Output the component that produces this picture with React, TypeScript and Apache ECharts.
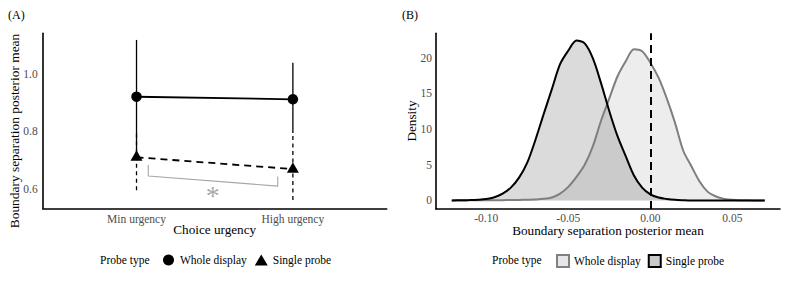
import React, { useEffect, useRef } from "react";
import * as echarts from "echarts";

// Panel A: boundary separation by choice urgency and probe type
const categories = ["Min urgency", "High urgency"];
const categoryPos = [1, 2];
const wholeDisplayMean = [0.92, 0.911];
const wholeDisplayLow = [0.716, 0.794];
const wholeDisplayHigh = [1.117, 1.038];
const singleProbeMean = [0.71, 0.669];
const singleProbeLow = [0.596, 0.562];
const singleProbeHigh = [0.8, 0.794];
const aTicks = [0.6, 0.8, 1.0];

// significance bracket between the single-probe means
const bracketX = [1.075, 1.075, 1.903, 1.903];
const bracketY = [0.683, 0.645, 0.61, 0.643];
const starPoint = [1.488, 0.577];

// Panel B: posterior density of the boundary separation difference
const densityX = [
  -0.121, -0.115, -0.11, -0.105, -0.1, -0.095, -0.09, -0.085, -0.08, -0.075,
  -0.07, -0.065, -0.06, -0.055, -0.05, -0.045, -0.04, -0.035, -0.03, -0.025,
  -0.02, -0.015, -0.01, -0.005, 0.0, 0.005, 0.01, 0.015, 0.02, 0.025,
  0.03, 0.035, 0.04, 0.045, 0.05, 0.055, 0.06, 0.065, 0.0697,
];
const densityWhole = [
  0, 0, 0.01, 0.01, 0.02, 0.03, 0.04, 0.05, 0.07, 0.1,
  0.14, 0.22, 0.42, 0.95, 1.9, 3.3, 5.0, 7.6, 11.2, 14.3,
  17.4, 19.5, 21.2, 20.9, 19.3, 17.2, 14.3, 10.9, 7.0, 4.8,
  2.65, 1.2, 0.55, 0.22, 0.08, 0.03, 0.01, 0, 0,
];
const densitySingle = [
  0, 0.02, 0.05, 0.1, 0.2, 0.45, 0.95, 1.8, 3.2, 5.3,
  8.5, 12.1, 15.6, 19.1, 21.0, 22.4, 22.0, 19.9, 16.4, 12.5,
  9.0, 6.2, 3.5, 1.8, 0.85, 0.4, 0.2, 0.08, 0.03, 0,
  0, 0, 0, 0, 0, 0, 0, 0, 0,
];
const bTicksX = [-0.1, -0.05, 0, 0.05];
const bTicksY = [0, 5, 10, 15, 20];

const FONT = "Liberation Serif";
const TICK_COLOR = "#4d4d4d";

function errorBarSeries(name: string, low: number[], high: number[], dash: number[] | null) {
  return {
    type: "custom",
    name,
    xAxisIndex: 0,
    yAxisIndex: 0,
    data: categoryPos.map((x, i) => [x, low[i], high[i]]),
    renderItem: (_params: any, api: any) => {
      const p1 = api.coord([api.value(0), api.value(1)]);
      const p2 = api.coord([api.value(0), api.value(2)]);
      return {
        type: "line",
        shape: { x1: p1[0], y1: p1[1], x2: p2[0], y2: p2[1] },
        style: { stroke: "#000", lineWidth: 1.3, lineDash: dash || undefined, fill: null },
      };
    },
    silent: true,
  };
}

function label(text: string, x: number, y: number, size: number, extra: any = {}) {
  return {
    type: "text",
    x,
    y,
    ...extra,
    style: {
      text,
      fontFamily: FONT,
      fontSize: size,
      fontWeight: "normal",
      fill: "#000",
      verticalAlign: "middle",
      ...(extra.style || {}),
    },
  };
}

export default function App() {
  const ref = useRef<HTMLDivElement | null>(null);

  useEffect(() => {
    if (!ref.current) return;
    const chart = echarts.init(ref.current, null, { renderer: "svg" });

    const axisLine = { onZero: false, lineStyle: { color: "#000", width: 1.6 } };
    const tickText = { color: TICK_COLOR, fontSize: 11.5, fontFamily: FONT };

    const option: any = {
      animation: false,
      textStyle: { fontFamily: FONT },
      grid: [
        { left: 42.7, top: 33.3, width: 344, height: 175 },
        { left: 436, top: 33.3, width: 344, height: 175.7 },
      ],
      xAxis: [
        {
          gridIndex: 0,
          type: "value",
          min: 0.4,
          max: 2.6,
          axisLine,
          axisTick: { show: false },
          splitLine: { show: false },
          axisLabel: {
            customValues: categoryPos,
            formatter: (v: number) => categories[Math.round(v) - 1] ?? "",
            ...tickText,
            margin: 5,
          },
        },
        {
          gridIndex: 1,
          type: "value",
          min: -0.1306,
          max: 0.079,
          axisLine,
          axisTick: { show: false },
          splitLine: { show: false },
          axisLabel: {
            customValues: bTicksX,
            formatter: (v: number) => v.toFixed(2),
            ...tickText,
            margin: 3,
          },
        },
      ],
      yAxis: [
        {
          gridIndex: 0,
          type: "value",
          min: 0.533,
          max: 1.14,
          axisLine,
          axisTick: { show: false },
          splitLine: { show: false },
          axisLabel: {
            customValues: aTicks,
            formatter: (v: number) => v.toFixed(1),
            ...tickText,
            margin: 5,
          },
        },
        {
          gridIndex: 1,
          type: "value",
          min: -1.2,
          max: 23.42,
          axisLine,
          axisTick: { show: false },
          splitLine: { show: false },
          axisLabel: {
            customValues: bTicksY,
            formatter: (v: number) => String(v),
            ...tickText,
            margin: 4,
          },
        },
      ],
      legend: [
        {
          left: 163,
          top: 254,
          padding: 0,
          itemWidth: 13,
          itemHeight: 11,
          itemGap: 8,
          selectedMode: false,
          textStyle: { fontSize: 11.5, color: "#000", fontFamily: FONT },
          data: [
            { name: "Whole display", icon: "circle", itemStyle: { color: "#000", borderWidth: 0 } },
            { name: "Single probe", icon: "triangle", itemStyle: { color: "#000", borderWidth: 0 } },
          ],
        },
        {
          left: 556,
          top: 254,
          padding: 0,
          itemWidth: 12,
          itemHeight: 12,
          itemGap: 7,
          selectedMode: false,
          textStyle: { fontSize: 11.5, color: "#000", fontFamily: FONT },
          data: [
            {
              name: "Whole display",
              icon: "rect",
              itemStyle: { color: "#e6e6e6", borderColor: "#808080", borderWidth: 2 },
            },
            {
              name: "Single probe",
              icon: "rect",
              itemStyle: { color: "#c9c9c9", borderColor: "#000", borderWidth: 2 },
            },
          ],
        },
      ],
      graphic: [
        label("(A)", 8, 15, 12),
        label("(B)", 402, 15, 12),
        label("Boundary separation posterior mean", 14, 131, 13.4, {
          rotation: Math.PI / 2,
          style: { align: "center" },
        }),
        label("Choice urgency", 214.7, 229, 13.2, { style: { align: "center" } }),
        label("Density", 411, 121, 13.2, { rotation: Math.PI / 2, style: { align: "center" } }),
        label("Boundary separation posterior mean", 608, 230, 13.2, { style: { align: "center" } }),
        label("Probe type", 100, 260, 11.5),
        label("Probe type", 492, 260, 11.5),
      ],
      series: [
        errorBarSeries("sp-interval", singleProbeLow, singleProbeHigh, [4, 3.5]),
        errorBarSeries("wd-interval", wholeDisplayLow, wholeDisplayHigh, null),
        {
          type: "line",
          name: "Whole display",
          xAxisIndex: 0,
          yAxisIndex: 0,
          data: categoryPos.map((x, i) => [x, wholeDisplayMean[i]]),
          symbol: "circle",
          symbolSize: 10.5,
          itemStyle: { color: "#000" },
          lineStyle: { color: "#000", width: 1.8 },
          silent: true,
        },
        {
          type: "line",
          name: "Single probe",
          xAxisIndex: 0,
          yAxisIndex: 0,
          data: categoryPos.map((x, i) => [x, singleProbeMean[i]]),
          symbol: "triangle",
          symbolSize: [12, 10.5],
          symbolOffset: [0, -1.7],
          itemStyle: { color: "#000" },
          lineStyle: { color: "#000", width: 1.8, type: [7, 5] },
          silent: true,
        },
        {
          type: "line",
          name: "bracket",
          xAxisIndex: 0,
          yAxisIndex: 0,
          data: bracketX.map((x, i) => [x, bracketY[i]]),
          symbol: "none",
          lineStyle: { color: "#a6a6a6", width: 1.1 },
          silent: true,
        },
        {
          type: "scatter",
          name: "star",
          xAxisIndex: 0,
          yAxisIndex: 0,
          data: [starPoint],
          symbol: "circle",
          symbolSize: 1,
          itemStyle: { color: "rgba(0,0,0,0)" },
          label: {
            show: true,
            position: "inside",
            formatter: "*",
            fontSize: 28,
            fontFamily: FONT,
            color: "#8f8f8f",
          },
          silent: true,
        },
        {
          type: "line",
          name: "Whole display",
          xAxisIndex: 1,
          yAxisIndex: 1,
          data: densityX.map((x, i) => [x, densityWhole[i]]),
          smooth: 0.3,
          symbol: "none",
          lineStyle: { color: "#7f7f7f", width: 2 },
          areaStyle: { color: "rgba(0,0,0,0.1)" },
          silent: true,
        },
        {
          type: "line",
          name: "Single probe",
          xAxisIndex: 1,
          yAxisIndex: 1,
          data: densityX.map((x, i) => [x, densitySingle[i]]),
          smooth: 0.3,
          symbol: "none",
          lineStyle: { color: "#000", width: 2 },
          areaStyle: { color: "rgba(0,0,0,0.2)" },
          silent: true,
          markLine: {
            silent: true,
            symbol: ["none", "none"],
            label: { show: false },
            lineStyle: { color: "#000", width: 2, type: [8, 5] },
            data: [{ xAxis: 0 }],
          },
        },
      ],
    };

    chart.setOption(option);
    return () => chart.dispose();
  }, []);

  return (
    <div
      ref={ref}
      style={{ position: "fixed", left: 0, top: 0, width: 800, height: 283, background: "#fff" }}
    />
  );
}
